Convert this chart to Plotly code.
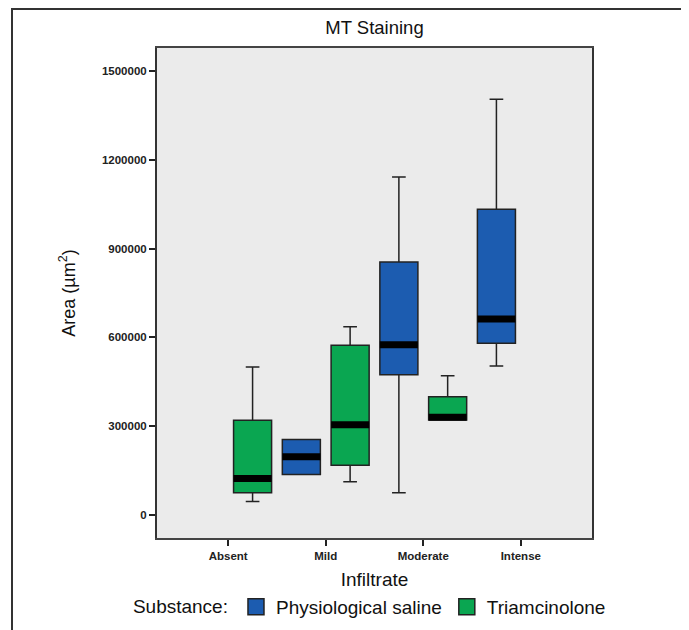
import plotly.graph_objects as go

categories = ["Absent", "Mild", "Moderate", "Intense"]

# Physiological saline
sal_x = ["Mild", "Moderate", "Intense"]
sal_lower = [137000, 75000, 503000]
sal_q1 = [137000, 474000, 580000]
sal_median = [197000, 575000, 662000]
sal_q3 = [255000, 855000, 1033000]
sal_upper = [255000, 1142000, 1405000]

# Triamcinolone
tri_x = ["Absent", "Mild", "Moderate"]
tri_lower = [45000, 112000, 321000]
tri_q1 = [75000, 168000, 321000]
tri_median = [123000, 305000, 330000]
tri_q3 = [320000, 573000, 399000]
tri_upper = [500000, 636000, 470000]

yticks = [0, 300000, 600000, 900000, 1200000, 1500000]

BLUE = "#1c5cb0"
GREEN = "#0aa651"
EDGE = "#222222"

fig = go.Figure()

def add_group(name, xs, lo, q1, med, q3, up, color, grp):
    fig.add_trace(go.Box(
        name=name, x=xs, lowerfence=lo, q1=q1, median=med, q3=q3, upperfence=up,
        fillcolor=color, line=dict(color=EDGE, width=1.5), whiskerwidth=0.36,
        offsetgroup=grp, alignmentgroup="a", hoverinfo="skip", showlegend=False))
    fig.add_trace(go.Box(
        name=name, x=xs, lowerfence=med, q1=med, median=med, q3=med, upperfence=med,
        fillcolor="black", line=dict(color="black", width=7), whiskerwidth=0,
        offsetgroup=grp, alignmentgroup="a", hoverinfo="skip", showlegend=False))
    # legend entry (square swatch)
    fig.add_trace(go.Scatter(
        name=name, x=[None], y=[None], mode="markers",
        marker=dict(symbol="square", size=16, color=color, line=dict(color=EDGE, width=1.5)),
        showlegend=True, hoverinfo="skip"))

add_group("Physiological saline", sal_x, sal_lower, sal_q1, sal_median, sal_q3, sal_upper, BLUE, "s")
add_group("Triamcinolone", tri_x, tri_lower, tri_q1, tri_median, tri_q3, tri_upper, GREEN, "t")

L, T, PW, PH = 149, 40, 435, 490
W, H = 689, 630

def px(x):
    return (x - L) / PW

def py(y):
    return (T + PH - y) / PH

fig.update_layout(
    width=W, height=H,
    margin=dict(l=L, r=W - L - PW, t=T, b=H - T - PH, autoexpand=False),
    paper_bgcolor="white", plot_bgcolor="#ebebeb",
    boxmode="group", boxgap=0, boxgroupgap=0.22,
    font=dict(family="Liberation Sans, Arial, sans-serif", color="#111111"),
    title=dict(text="MT Staining", x=0.5, xref="paper", y=1 - 20 / H, yanchor="middle",
               font=dict(size=18.5, color="#111111")),
    xaxis=dict(categoryorder="array", categoryarray=categories, range=[-0.73, 3.73],
               title=dict(text="Infiltrate", font=dict(size=19), standoff=12),
               showline=True, linecolor="#444444", linewidth=2, mirror=True,
               ticks="outside", ticklen=6, tickcolor="#222222", tickwidth=1.5,
               tickfont=dict(size=11.5, weight="bold", color="#222222"), showgrid=False),
    yaxis=dict(range=[-78000, 1578000], tickvals=yticks,
               ticktext=[str(v) for v in yticks],
               title=dict(text="Area (µm<sup>2</sup>)", font=dict(size=18), standoff=22),
               showline=True, linecolor="#333333", linewidth=2, mirror=True,
               ticks="outside", ticklen=6, tickcolor="#222222", tickwidth=1.5,
               tickfont=dict(size=11.5, weight="bold", color="#222222"),
               showgrid=False, zeroline=False),
    legend=dict(orientation="h", x=-0.06, xanchor="left", y=py(599), yanchor="middle",
                title=dict(text="Substance:", font=dict(size=19)),
                font=dict(size=19), itemwidth=30, bgcolor="rgba(0,0,0,0)"),
    shapes=[dict(type="rect", xref="paper", yref="paper",
                 x0=px(4), x1=px(676), y0=py(680), y1=py(1),
                 line=dict(color="#333333", width=2), layer="below")],
)

fig.write_html("out.html")
